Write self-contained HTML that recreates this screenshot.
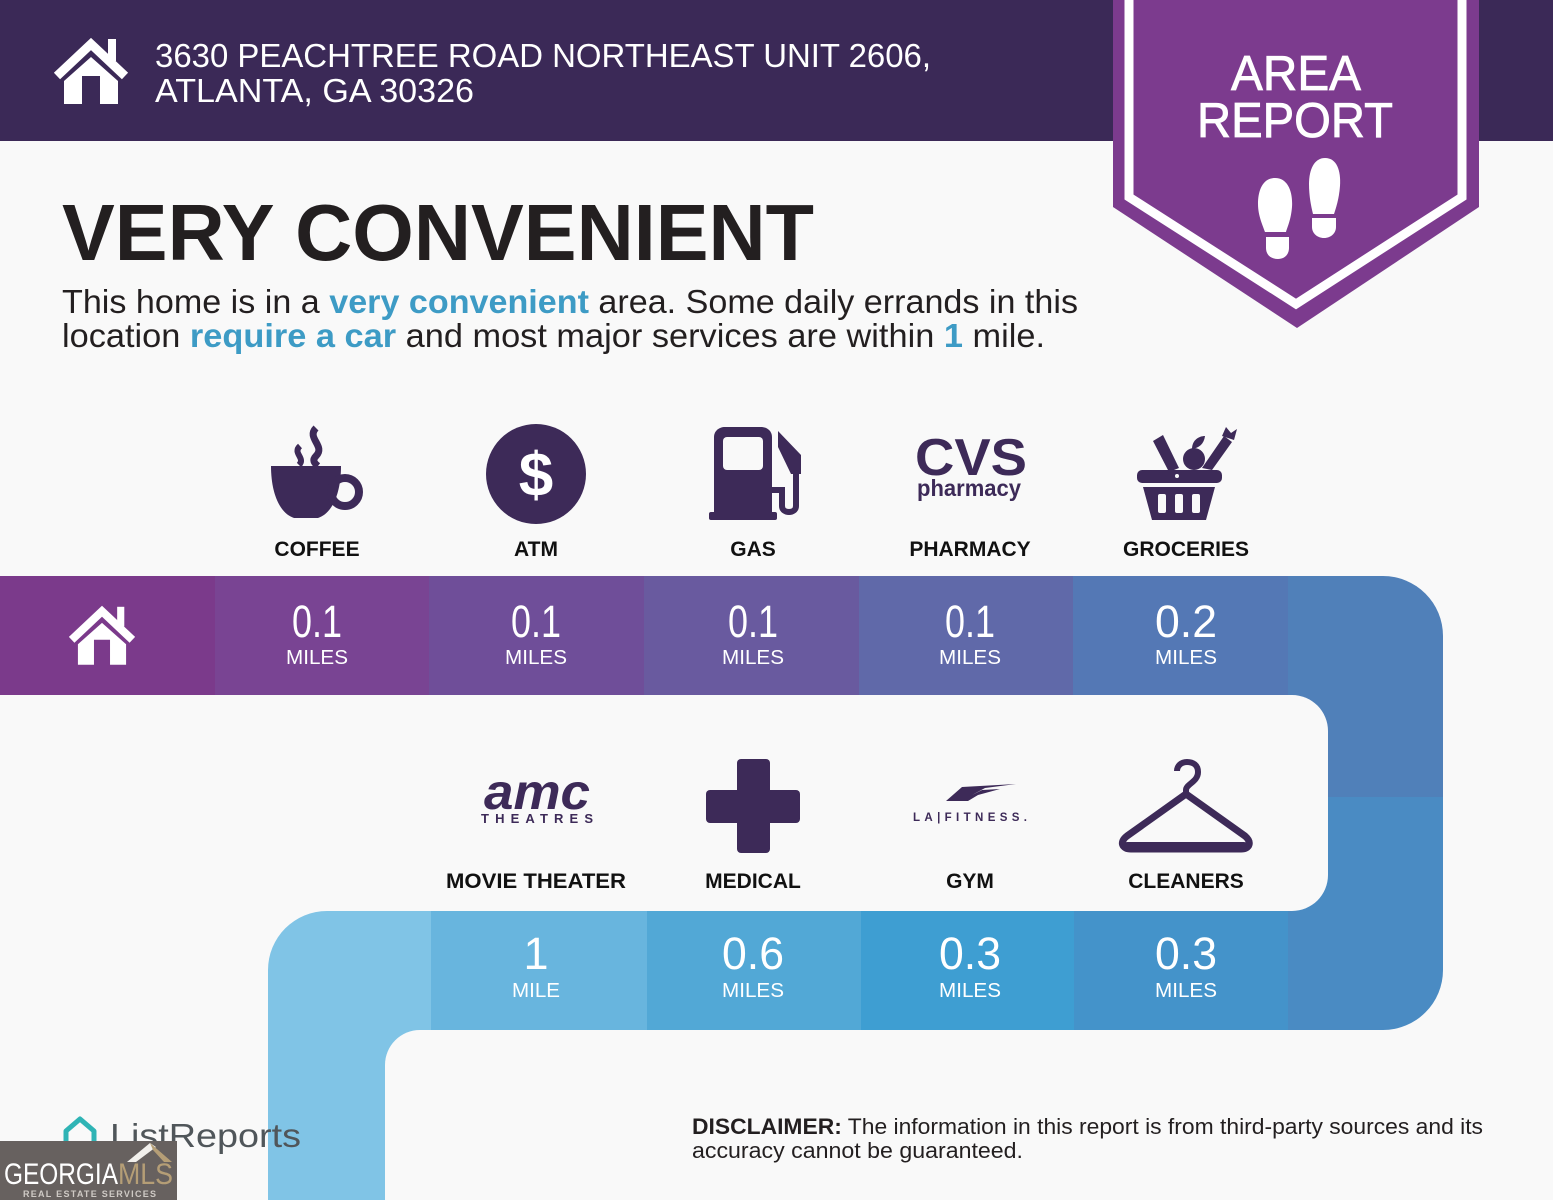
<!DOCTYPE html>
<html><head><meta charset="utf-8"><title>Area Report</title>
<style>
html,body{margin:0;padding:0;background:#f9f9f9;width:1553px;height:1200px;overflow:hidden;}
svg{display:block;}
</style></head>
<body>
<svg width="1553" height="1200" viewBox="0 0 1553 1200" xmlns="http://www.w3.org/2000/svg" font-family="'Liberation Sans', sans-serif">
<defs>
<symbol id="home" viewBox="0 0 74 69">
<rect x="54" y="4" width="8" height="22" fill="#fff"/>
<path d="M3,41 L37,9 L71,41" fill="none" stroke="#fff" stroke-width="9"/>
<path d="M10,46 L37,22 L64,46 V69 H46 V41 H28 V69 H10 Z" fill="#fff"/>
</symbol>
</defs>
<rect x="0" y="0" width="1553" height="1200" fill="#f9f9f9"/>

<!-- header -->
<rect x="0" y="0" width="1553" height="141" fill="#3b2957"/>
<use href="#home" x="54" y="35" width="74" height="69"/>
<text x="155" y="67" font-size="33" fill="#fff" textLength="776" lengthAdjust="spacingAndGlyphs">3630 PEACHTREE ROAD NORTHEAST UNIT 2606,</text>
<text x="155" y="102" font-size="33" fill="#fff" textLength="319" lengthAdjust="spacingAndGlyphs">ATLANTA, GA 30326</text>

<!-- badge -->
<polygon points="1113,0 1479,0 1479,207 1297,328 1113,207" fill="#7c3b8e"/>
<polygon points="1129,-10 1462,-10 1462,197 1296,304 1129,197" fill="none" stroke="#fff" stroke-width="9"/>
<text x="1296" y="90" font-size="49" fill="#fff" stroke="#fff" stroke-width="0.8" text-anchor="middle" textLength="130" lengthAdjust="spacingAndGlyphs">AREA</text>
<text x="1295" y="137" font-size="49" fill="#fff" stroke="#fff" stroke-width="0.8" text-anchor="middle" textLength="196" lengthAdjust="spacingAndGlyphs">REPORT</text>
<!-- footprints -->
<path d="M1275,178 C1288,178 1293,192 1292,207 C1291,220 1287,228 1286,232 L1265,232 C1263,226 1258,216 1258,204 C1258,190 1263,178 1275,178 Z" fill="#fff"/>
<path d="M1266,237 H1289 V248 C1289,255 1284,259 1278,259 C1271,259 1266,255 1266,248 Z" fill="#fff"/>
<path d="M1325,158 C1337,158 1341,171 1340,186 C1339,199 1336,208 1334,214 L1313,214 C1311,206 1309,196 1309,184 C1309,170 1314,158 1325,158 Z" fill="#fff"/>
<path d="M1312,218 H1336 V227 C1336,233 1331,238 1324,238 C1317,238 1312,233 1312,227 Z" fill="#fff"/>

<!-- title -->
<text x="62" y="260" font-size="80" font-weight="bold" fill="#231f20" textLength="752" lengthAdjust="spacingAndGlyphs">VERY CONVENIENT</text>
<text x="62" y="313" font-size="33" fill="#231f20" textLength="1016" lengthAdjust="spacingAndGlyphs">This home is in a <tspan font-weight="bold" fill="#3d9bc5">very convenient</tspan> area. Some daily errands in this</text>
<text x="62" y="347" font-size="33" fill="#231f20" textLength="983" lengthAdjust="spacingAndGlyphs">location <tspan font-weight="bold" fill="#3d9bc5">require a car</tspan> and most major services are within <tspan font-weight="bold" fill="#3d9bc5">1</tspan> mile.</text>

<!-- row 1 icons -->
<g fill="#3d2a58">
<!-- coffee -->
<path d="M271,466 L341,466 C341,492 333,513 318,518 L294,518 C279,513 271,492 271,466 Z"/>
<circle cx="345" cy="492" r="14" fill="none" stroke="#3d2a58" stroke-width="8"/>
<path d="M316,428 C306,438 326,446 316,456 C312,460 314,463 318,466" fill="none" stroke="#3d2a58" stroke-width="7"/>
<path d="M300,446 C292,453 306,458 299,465" fill="none" stroke="#3d2a58" stroke-width="6"/>
<!-- atm -->
<circle cx="536" cy="474" r="50"/>
<!-- gas -->
<path d="M714,437 C714,431 719,427 725,427 H761 C767,427 772,431 772,437 V513 H714 Z"/>
<rect x="709" y="512" width="68" height="8" rx="2"/>
<path d="M772,490 H782 V506 C782,514 796,514 796,506 V468" fill="none" stroke="#3d2a58" stroke-width="6"/>
<path d="M778,431 L801,455 V474 H791 L778,447 Z"/>
<!-- cvs -->
<text x="915" y="475" font-size="52" font-weight="bold" textLength="112" lengthAdjust="spacingAndGlyphs">CVS</text>
<text x="917" y="496" font-size="23" font-weight="bold" textLength="104" lengthAdjust="spacingAndGlyphs">pharmacy</text>
<!-- groceries -->
<path d="M1153,441 L1163,435 L1179,468 L1169,472 Z"/>
<circle cx="1194" cy="459" r="11"/>
<path d="M1192,449 C1192,440 1199,436 1205,436 C1204,444 1199,448 1192,449 Z"/>
<path d="M1202,468 L1224,436 L1232,442 L1212,470 Z"/>
<path d="M1222,436 L1226,427 L1231,433 L1237,429 L1234,440 Z"/>
<rect x="1137" y="470" width="85" height="13" rx="5"/>
<path d="M1143,487 H1215 L1206,520 H1152 Z"/>
</g>
<text x="536" y="496" font-size="62" font-weight="bold" fill="#fff" text-anchor="middle">$</text>
<rect x="723" y="437" width="40" height="33" rx="4" fill="#f9f9f9"/>
<g fill="#f9f9f9">
<rect x="1158" y="494" width="8" height="19" rx="2"/>
<rect x="1175" y="494" width="8" height="19" rx="2"/>
<rect x="1192" y="494" width="8" height="19" rx="2"/>
<circle cx="1177" cy="476" r="2"/>
</g>

<g font-size="21" font-weight="bold" fill="#111" text-anchor="middle">
<text x="317" y="556">COFFEE</text>
<text x="536" y="556">ATM</text>
<text x="753" y="556">GAS</text>
<text x="970" y="556">PHARMACY</text>
<text x="1186" y="556">GROCERIES</text>
</g>

<!-- band path -->
<rect x="0" y="576" width="215" height="119" fill="#7b3a8b"/>
<rect x="215" y="576" width="214" height="119" fill="#794493"/>
<rect x="429" y="576" width="215" height="119" fill="#6f4e99"/>
<rect x="644" y="576" width="215" height="119" fill="#695a9f"/>
<rect x="859" y="576" width="214" height="119" fill="#6069a9"/>
<rect x="1073" y="576" width="215" height="119" fill="#5478b5"/>
<path d="M1288,576 H1383 A60,60 0 0 1 1443,636 V797 H1288 Z" fill="#5080b9"/>
<path d="M1288,797 H1443 V970 A60,60 0 0 1 1383,1030 H1288 Z" fill="#4a8bc3"/>
<rect x="300" y="695" width="1028" height="216" rx="36" fill="#f9f9f9"/>

<path d="M268,1200 V970 A59,59 0 0 1 327,911 H431 V1030 H385 V1200 Z" fill="#80c4e6"/>
<rect x="385" y="1025" width="50" height="50" fill="#80c4e6"/>
<rect x="431" y="911" width="216" height="119" fill="#68b5de"/>
<rect x="647" y="911" width="214" height="119" fill="#52a8d6"/>
<rect x="861" y="911" width="213" height="119" fill="#3e9ed2"/>
<rect x="1074" y="911" width="214" height="119" fill="#4493ca"/>
<rect x="385" y="1030" width="1168" height="170" rx="35" fill="#f9f9f9"/>

<use href="#home" x="69" y="603" width="66" height="62"/>
<g fill="#fff" text-anchor="middle">
<text x="317" y="637" font-size="45" textLength="50" lengthAdjust="spacingAndGlyphs">0.1</text>
<text x="536" y="637" font-size="45" textLength="50" lengthAdjust="spacingAndGlyphs">0.1</text>
<text x="753" y="637" font-size="45" textLength="50" lengthAdjust="spacingAndGlyphs">0.1</text>
<text x="970" y="637" font-size="45" textLength="50" lengthAdjust="spacingAndGlyphs">0.1</text>
<text x="1186" y="637" font-size="45" textLength="62" lengthAdjust="spacingAndGlyphs">0.2</text>
<text x="317" y="664" font-size="20" textLength="62" lengthAdjust="spacingAndGlyphs">MILES</text>
<text x="536" y="664" font-size="20" textLength="62" lengthAdjust="spacingAndGlyphs">MILES</text>
<text x="753" y="664" font-size="20" textLength="62" lengthAdjust="spacingAndGlyphs">MILES</text>
<text x="970" y="664" font-size="20" textLength="62" lengthAdjust="spacingAndGlyphs">MILES</text>
<text x="1186" y="664" font-size="20" textLength="62" lengthAdjust="spacingAndGlyphs">MILES</text>

<text x="536" y="969" font-size="45">1</text>
<text x="753" y="969" font-size="45" textLength="62" lengthAdjust="spacingAndGlyphs">0.6</text>
<text x="970" y="969" font-size="45" textLength="62" lengthAdjust="spacingAndGlyphs">0.3</text>
<text x="1186" y="969" font-size="45" textLength="62" lengthAdjust="spacingAndGlyphs">0.3</text>
<text x="536" y="997" font-size="20" textLength="48" lengthAdjust="spacingAndGlyphs">MILE</text>
<text x="753" y="997" font-size="20" textLength="62" lengthAdjust="spacingAndGlyphs">MILES</text>
<text x="970" y="997" font-size="20" textLength="62" lengthAdjust="spacingAndGlyphs">MILES</text>
<text x="1186" y="997" font-size="20" textLength="62" lengthAdjust="spacingAndGlyphs">MILES</text>
</g>

<!-- row 2 icons -->
<g fill="#3d2a58">
<text x="484" y="809" font-size="50" font-weight="bold" font-style="italic" textLength="106" lengthAdjust="spacingAndGlyphs">amc</text>
<text x="481" y="823" font-size="13" font-weight="bold" textLength="112" lengthAdjust="spacing">THEATRES</text>
<rect x="737" y="759" width="33" height="94" rx="4"/>
<rect x="706" y="790" width="94" height="33" rx="4"/>
<path d="M946,801 L962,787 L1016,784 L985,788 L972,795 L982,790 L1000,789 L978,795 L968,801 Z"/>
<text x="913" y="821" font-size="11.5" font-weight="bold" textLength="114" lengthAdjust="spacing">LA|FITNESS.</text>
</g>
<path d="M1186,796 V790 C1186,784 1198,782 1198,772 C1198,765 1193,762 1187,762 C1181,762 1177,766 1177,771" fill="none" stroke="#3d2a58" stroke-width="6"/>
<path d="M1186,794 L1127,836 C1119,842 1122,849 1131,849 H1241 C1250,849 1252,842 1245,836 Z" fill="none" stroke="#3d2a58" stroke-width="7" stroke-linejoin="round"/>
<rect x="1122" y="842" width="127" height="10" rx="5" fill="#3d2a58"/>

<g font-size="21" font-weight="bold" fill="#111" text-anchor="middle">
<text x="536" y="888" textLength="180" lengthAdjust="spacingAndGlyphs">MOVIE THEATER</text>
<text x="753" y="888">MEDICAL</text>
<text x="970" y="888">GYM</text>
<text x="1186" y="888">CLEANERS</text>
</g>

<!-- disclaimer -->
<text x="692" y="1134" font-size="22.5" fill="#231f20" textLength="791" lengthAdjust="spacingAndGlyphs"><tspan font-weight="bold">DISCLAIMER:</tspan> The information in this report is from third-party sources and its</text>
<text x="692" y="1158" font-size="22.5" fill="#231f20" textLength="331" lengthAdjust="spacingAndGlyphs">accuracy cannot be guaranteed.</text>

<!-- ListReports logo -->
<path d="M66,1146 V1131 L80,1119 L94,1131 V1142 C94,1148 88,1150 84,1147" fill="none" stroke="#2fb4b5" stroke-width="5" stroke-linejoin="round"/>
<text x="110" y="1147" font-size="33" fill="#50565a" textLength="191" lengthAdjust="spacingAndGlyphs">ListReports</text>

<!-- Georgia MLS -->
<rect x="0" y="1141" width="177" height="59" fill="#67615f"/>
<polygon points="127,1162 150,1143 156,1147 136,1162" fill="#f2f0ec"/>
<polygon points="150,1143 172,1162 164,1162 153,1150" fill="#b59e76"/>
<text x="4" y="1184" font-size="30" fill="#fff" textLength="114" lengthAdjust="spacingAndGlyphs">GEORGIA</text>
<text x="118" y="1184" font-size="30" fill="#b59e76" textLength="55" lengthAdjust="spacingAndGlyphs">MLS</text>
<text x="23" y="1197" font-size="9" font-weight="bold" fill="#cfcac5" textLength="133" lengthAdjust="spacing">REAL ESTATE SERVICES</text>
</svg>
</body></html>
